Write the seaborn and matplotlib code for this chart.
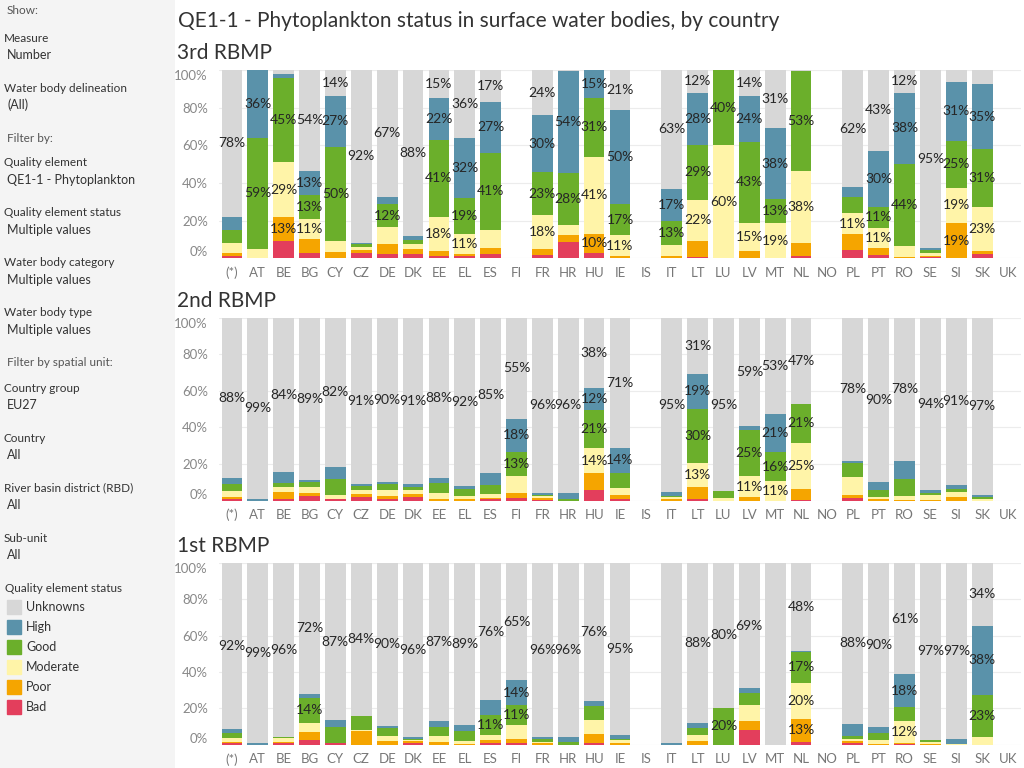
import numpy as np
import matplotlib
matplotlib.use('Agg')
import matplotlib.pyplot as plt
from matplotlib.patches import Rectangle
import seaborn as sns

countries = ['(*)', 'AT', 'BE', 'BG', 'CY', 'CZ', 'DE', 'DK', 'EE', 'EL', 'ES', 'FI', 'FR', 'HR', 'HU',
             'IE', 'IS', 'IT', 'LT', 'LU', 'LV', 'MT', 'NL', 'NO', 'PL', 'PT', 'RO', 'SE', 'SI', 'SK', 'UK']
statuses = ['Bad', 'Poor', 'Moderate', 'Good', 'High', 'Unknowns']
colors = {'Unknowns': '#d7d7d7', 'High': '#5a92aa', 'Good': '#6baf2b',
          'Moderate': '#fff4a8', 'Poor': '#f5a500', 'Bad': '#e33e5c'}

# 3rd RBMP (% of water bodies)
r3_bad = [1, 0, 9, 2.8, 0, 2.8, 2.3, 2.3, 1.2, 1.0, 2.3, 0, 1.8, 8.7, 2.8, 0, 0, 0.3, 0.7, 0, 0, 0, 1.2, 0, 4.4, 1.8, 0, 0.7, 0, 2.3, 0]
r3_poor = [2, 0, 13, 7.3, 3.4, 1.8, 5.3, 2.7, 2.8, 1.4, 3.4, 0, 3.2, 3.7, 10.2, 1.2, 0, 0.7, 8.5, 0, 3.7, 0, 6.9, 0, 8.5, 3.7, 0.7, 0.5, 18.8, 1.6, 0]
r3_moderate = [5, 5, 29, 10.6, 5.8, 1.6, 9.0, 2.7, 17.8, 10.6, 9.3, 0, 18.0, 5.3, 41.0, 11.0, 0, 5.8, 22.0, 60, 15.0, 18.8, 38.2, 0, 11.0, 10.6, 5.8, 1.6, 18.6, 23.4, 0]
r3_good = [7, 59, 45, 13.0, 50, 1.3, 12.0, 2.1, 41.2, 18.8, 41.0, 0, 22.8, 27.8, 31.0, 16.8, 0, 12.9, 29.0, 40, 43.3, 12.6, 53.2, 0, 8.5, 11.2, 43.6, 1.6, 25.0, 30.6, 0]
r3_high = [7, 36, 2, 12.7, 27, 0.7, 4.2, 2.1, 22.0, 32.2, 27.0, 0, 30.2, 54.0, 15.0, 50.0, 0, 17.3, 27.8, 0, 24.0, 37.6, 0, 0, 5.3, 29.7, 37.7, 1.0, 31.3, 34.8, 0]
r3_unknowns = [78, 0, 2, 53.6, 13.8, 91.8, 67.2, 88.1, 15.0, 36.0, 17.0, 0, 24.0, 0.5, 0, 21.0, 0, 63.0, 12.0, 0, 14.0, 31.0, 0.5, 0, 62.3, 43.0, 12.2, 94.6, 6.3, 7.3, 0]

# 2nd RBMP
r2_bad = [1.1, 0, 0.9, 2.7, 0.9, 2.0, 0.9, 2.0, 0, 0, 0.9, 1.5, 0.3, 0, 5.6, 0.9, 0, 0, 0.9, 0, 0, 0, 0.6, 0, 1.6, 0, 0, 0, 0, 0, 0]
r2_poor = [1.1, 0, 3.8, 1.5, 0, 1.6, 1.6, 1.6, 0.9, 1.1, 0.5, 2.7, 1.2, 0, 9.4, 2.2, 0, 1.1, 6.6, 0, 2.2, 0, 5.7, 0, 1.6, 1.1, 0.4, 0.5, 2.2, 0, 0]
r2_moderate = [3.1, 0, 2.7, 3.3, 2.2, 2.2, 3.3, 2.2, 3.3, 1.6, 2.2, 9.3, 1.1, 0, 13.7, 3.8, 0, 0.7, 13.0, 1.3, 11.0, 10.6, 25.4, 0, 9.5, 1.1, 2.0, 2.7, 2.7, 1.1, 0]
r2_good = [3.6, 0, 2.2, 2.7, 8.7, 2.2, 3.3, 1.6, 5.5, 3.8, 5.1, 13.2, 0.7, 0.9, 21.0, 8.2, 0, 0.7, 29.7, 3.7, 25.2, 15.9, 21.0, 0, 7.9, 3.8, 9.6, 1.1, 1.6, 1.1, 0]
r2_high = [3.5, 1.0, 6.0, 1.1, 6.6, 1.1, 1.1, 1.6, 2.7, 1.6, 6.4, 18.1, 0.9, 3.3, 12.0, 13.7, 0, 2.2, 19.2, 0, 2.2, 20.8, 0, 0, 1.1, 4.4, 9.6, 1.6, 2.2, 1.1, 0]
r2_unknowns = [87.6, 99.0, 84.4, 88.7, 81.6, 90.9, 89.8, 91.0, 87.6, 91.9, 84.9, 55.2, 95.8, 95.8, 38.3, 71.2, 0, 95.3, 30.6, 95.0, 59.4, 52.7, 47.3, 0, 78.3, 89.6, 78.4, 94.1, 91.3, 96.7, 0]

# 1st RBMP
r1_bad = [1.1, 0, 0.9, 2.4, 0.9, 0, 0, 0.9, 0, 0, 0.9, 0.9, 0, 0, 0.9, 0, 0, 0, 0, 0, 8.3, 0, 1.7, 0, 1.1, 0, 0.6, 0, 0, 0, 0]
r1_poor = [0.6, 0, 0.6, 4.8, 0, 7.3, 2.0, 1.1, 1.4, 0.6, 1.6, 2.2, 0.9, 0, 5.0, 0.8, 0, 0, 1.9, 0, 5.0, 0, 12.7, 0, 1.1, 0.6, 0.6, 0.6, 0, 0, 0]
r1_moderate = [2.0, 0, 2.2, 4.9, 0, 0.7, 2.8, 0.6, 3.6, 1.6, 2.8, 7.7, 0.7, 0, 7.7, 1.8, 0, 0, 3.6, 0, 8.3, 0, 19.6, 0, 1.1, 2.2, 11.6, 1.1, 0.6, 4.4, 0]
r1_good = [2.5, 0, 0.6, 13.8, 8.8, 8.0, 4.4, 0.6, 4.9, 5.5, 11.0, 11.0, 1.5, 1.5, 7.7, 0.3, 0, 0, 3.7, 20.2, 6.6, 0, 17.1, 0, 1.7, 3.9, 7.7, 1.1, 0, 23.1, 0]
r1_high = [2.2, 1.2, 0, 2.2, 3.7, 0, 1.1, 1.1, 3.2, 2.9, 8.1, 13.6, 1.1, 2.8, 2.8, 2.4, 0, 0.9, 2.7, 0, 2.8, 0, 0.6, 0, 6.6, 3.3, 18.2, 0, 2.8, 38.1, 0]
r1_unknowns = [91.6, 98.8, 95.7, 71.9, 86.6, 84.0, 89.7, 95.7, 86.9, 89.4, 75.6, 64.6, 95.8, 95.7, 75.9, 94.7, 0, 99.1, 88.1, 79.8, 69.0, 100, 48.3, 0, 88.4, 90.0, 61.3, 97.2, 96.6, 34.4, 0]
r1_hide = ['IT', 'MT']

panels = [
    ('3rd RBMP', [r3_bad, r3_poor, r3_moderate, r3_good, r3_high, r3_unknowns], [], 70, 258.3),
    ('2nd RBMP', [r2_bad, r2_poor, r2_moderate, r2_good, r2_high, r2_unknowns], [], 317.7, 500.6),
    ('1st RBMP', [r1_bad, r1_poor, r1_moderate, r1_good, r1_high, r1_unknowns], r1_hide, 563, 744.7),
]

sns.set_theme(style='white')
plt.rcParams['font.family'] = ['Lato', 'DejaVu Sans']

W, H = 1024, 768
fig = plt.figure(figsize=(W / 100, H / 100), dpi=100)

# sidebar
side = fig.add_axes([0, 0, 175 / W, 1])
side.set_xlim(0, 175)
side.set_ylim(H, 0)
side.axis('off')
side.add_patch(Rectangle((0, 0), 175, H, color='#f4f4f4', zorder=0))

def stext(x, y, s, size=8.5, color='#333333'):
    side.text(x, y, s, fontsize=size, color=color, va='center', ha='left')

stext(7, 11, 'Show:', 8.5, '#555555')
items = [('Measure', 'Number', 38), ('Water body delineation', '(All)', 88)]
for head, val, y in items:
    stext(4, y, head)
    stext(7, y + 17, val, 9)
stext(7, 138, 'Filter by:', 8.5, '#555555')
items = [('Quality element', 'QE1-1 - Phytoplankton', 163),
         ('Quality element status', 'Multiple values', 213),
         ('Water body category', 'Multiple values', 263),
         ('Water body type', 'Multiple values', 313)]
for head, val, y in items:
    stext(4, y, head)
    stext(7, y + 17, val, 9)
stext(7, 363, 'Filter by spatial unit:', 8.5, '#555555')
items = [('Country group', 'EU27', 388), ('Country', 'All', 438),
         ('River basin district (RBD)', 'All', 488), ('Sub-unit', 'All', 538)]
for head, val, y in items:
    stext(4, y, head)
    stext(7, y + 17, val, 9)
stext(5, 589, 'Quality element status')
for k, st in enumerate(statuses[::-1]):
    y = 607 + 20 * k
    side.add_patch(Rectangle((7, y - 7), 14, 14, color=colors[st]))
    stext(26, y, st, 9)

fig.text(178 / W, 1 - 21 / H, 'QE1-1 - Phytoplankton status in surface water bodies, by country',
         fontsize=15, color='#333333', va='center', ha='left')

for name, series, hide, top, bottom in panels:
    fig.text(177 / W, 1 - (top - 17) / H, name, fontsize=15, color='#333333', va='center', ha='left')
    ax = fig.add_axes([219 / W, 1 - bottom / H, 802 / W, (bottom - top) / H])
    vals = np.array(series)
    cum = np.cumsum(vals, axis=0)
    for k in range(len(statuses) - 1, -1, -1):
        sns.barplot(x=countries, y=cum[k], order=countries, color=colors[statuses[k]],
                    saturation=1, width=0.8, linewidth=0, errorbar=None, ax=ax)
    for k in range(len(statuses)):
        for i, c in enumerate(countries):
            v = vals[k, i]
            if v >= 9.75 and c not in hide:
                ax.text(i, cum[k, i] - v / 2, f'{int(v + 0.5)}%', ha='center', va='center',
                        fontsize=10, color='#262626')
    ax.set_xlim(-0.5, len(countries) - 0.5)
    ax.set_ylim(0, 100)
    ax.set_xlabel('')
    ax.set_ylabel('')
    ax.set_yticks(range(0, 101, 20), labels=[f'{v}%' for v in range(0, 101, 20)])
    ax.tick_params(axis='y', length=0, pad=8, labelsize=9.5, labelcolor='#888888')
    ax.tick_params(axis='x', length=0, pad=6, labelsize=9.5, labelcolor='#777777')
    tl = ax.get_yticklabels()
    tl[0].set_va('bottom')
    tl[-1].set_va('top')
    ax.yaxis.grid(True, color='#ececec', linewidth=0.8)
    ax.set_axisbelow(True)
    for s in ax.spines.values():
        s.set_visible(False)

fig.savefig('out.png', dpi=100)
